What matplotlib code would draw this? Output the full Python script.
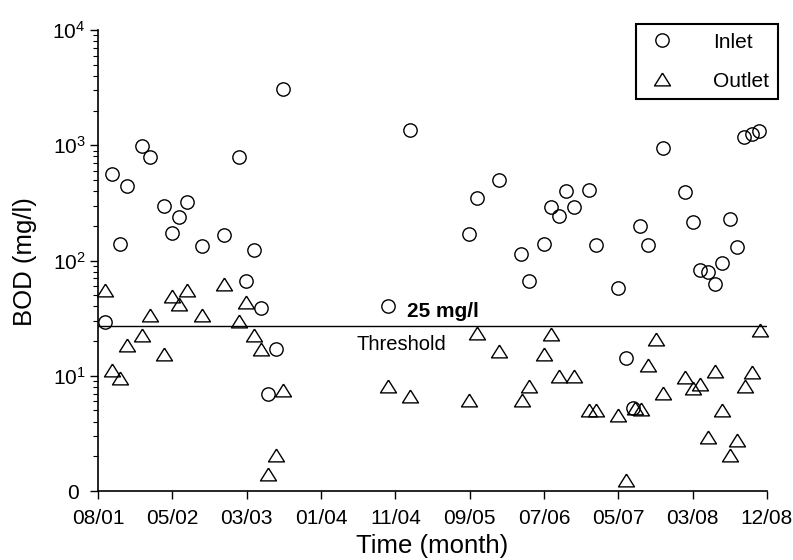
import matplotlib
matplotlib.use('Agg')
import matplotlib.pyplot as plt
from matplotlib.ticker import LogLocator, NullFormatter

plt.rcParams['font.family'] = ['Liberation Sans', 'DejaVu Sans']
plt.rcParams['mathtext.fontset'] = 'custom'
plt.rcParams['mathtext.rm'] = 'Liberation Sans'
plt.rcParams['mathtext.it'] = 'Liberation Sans:italic'
plt.rcParams['mathtext.bf'] = 'Liberation Sans:bold'

# days since 01 Aug 2001
inlet_day = [28, 58, 89, 118, 179, 209, 268, 299, 328, 359, 419, 509, 568, 599, 628,
             657, 687, 717, 748, 1169, 1259, 1499, 1528, 1620, 1708, 1741, 1799, 1829,
             1861, 1889, 1921, 1982, 2011, 2100, 2130, 2159, 2189, 2220, 2282, 2370,
             2400, 2430, 2461, 2490, 2520, 2550, 2579, 2608, 2640, 2669]
inlet_bod = [29, 560, 140, 440, 980, 790, 300, 175, 240, 320, 133, 165, 790, 66, 124,
             39, 7.0, 17, 3050, 40, 1350, 170, 350, 500, 115, 67, 138, 290,
             245, 400, 290, 410, 136, 58, 14.2, 5.2, 200, 135, 945, 390,
             215, 82, 80, 63, 95, 230, 131, 1180, 1250, 1320]

outlet_day = [28, 58, 89, 118, 179, 209, 268, 299, 328, 359, 419, 509, 569, 599, 628,
              658, 687, 718, 748, 1169, 1259, 1499, 1528, 1620, 1710, 1741, 1799, 1828,
              1859, 1921, 1982, 2011, 2100, 2130, 2167, 2192, 2221, 2251, 2282, 2370,
              2400, 2430, 2461, 2490, 2520, 2550, 2580, 2610, 2641, 2672]
outlet_bod = [55, 11.2, 9.6, 18.5, 22.5, 33.6, 15.6, 49, 42, 55, 33.6, 63, 30, 44, 22.5,
              17, 1.4, 2.05, 7.5, 8.1, 6.7, 6.2, 23.6, 16.4, 6.2, 8.1, 15.4, 23,
              10, 10, 5.0, 5.0, 4.6, 1.25, 5.2, 5.1, 12.4, 20.7, 7.1, 9.7,
              7.9, 8.5, 2.96, 11, 5.0, 2.05, 2.77, 8.2, 10.8, 25]

tick_days = [0, 300, 600, 900, 1200, 1500, 1800, 2100, 2400, 2700]
tick_labels = ['08/01', '05/02', '03/03', '01/04', '11/04', '09/05', '07/06', '05/07', '03/08', '12/08']
y_ticks = [1, 10, 100, 1000, 10000]
y_labels = ['0 ', r'$\mathregular{10^{1}}$', r'$\mathregular{10^{2}}$',
            r'$\mathregular{10^{3}}$', r'$\mathregular{10^{4}}$']
threshold = 26.8

tri = [(0, 0.8), (-1, -0.8), (1, -0.8), (0, 0.8)]

fig = plt.figure(figsize=(7.93, 5.6), dpi=100)
ax = fig.add_axes([0.1236, 0.1232, 0.8436, 0.8232])

ax.plot(inlet_day, inlet_bod, ls='none', marker='o', ms=9.6, mfc='none', mec='black',
        mew=1.0, label='Inlet', clip_on=False)
ax.plot(outlet_day, outlet_bod, ls='none', marker=tri, ms=11.5, mfc='none', mec='black',
        mew=1.0, label='Outlet', clip_on=False)
ax.axhline(threshold, color='black', lw=1.0)

ax.text(1392, 32.3, '25 mg/l', fontsize=15, fontweight='bold', ha='center', va='baseline')
ax.text(1223, 16.7, 'Threshold', fontsize=14.5, ha='center', va='baseline')

ax.set_yscale('log')
ax.set_ylim(1, 1e4)
ax.set_xlim(0, 2700)
ax.set_yticks(y_ticks)
ax.set_yticklabels(y_labels)
ax.yaxis.set_minor_locator(LogLocator(base=10, subs=range(2, 10)))
ax.yaxis.set_minor_formatter(NullFormatter())
ax.set_xticks(tick_days)
ax.set_xticklabels(tick_labels)

ax.tick_params(axis='both', which='major', direction='out', length=6, width=1.0,
               labelsize=15, color='black')
ax.tick_params(axis='x', pad=7)
ax.tick_params(axis='y', pad=3)
ax.tick_params(axis='y', which='minor', direction='out', length=3.5, width=0.8)

for s in ['top', 'right']:
    ax.spines[s].set_visible(False)
for s in ['left', 'bottom']:
    ax.spines[s].set_linewidth(1.2)

fig.text(432 / 793, 1 - 553 / 560, 'Time (month)', fontsize=18.5, ha='center', va='baseline')
fig.text(25 / 793, 1 - 261.7 / 560, 'BOD (mg/l)', fontsize=18.5, rotation=90,
         ha='center', va='center')

leg = ax.legend(loc='upper right', bbox_to_anchor=(778 / 793, 1 - 24 / 560),
                bbox_transform=fig.transFigure, numpoints=1, fontsize=15,
                fancybox=False, framealpha=1, edgecolor='black', borderaxespad=0,
                borderpad=0.42, handlelength=1.7, handletextpad=1.6, labelspacing=0.95)
leg.get_frame().set_linewidth(1.5)

fig.savefig('out.png', dpi=100)
